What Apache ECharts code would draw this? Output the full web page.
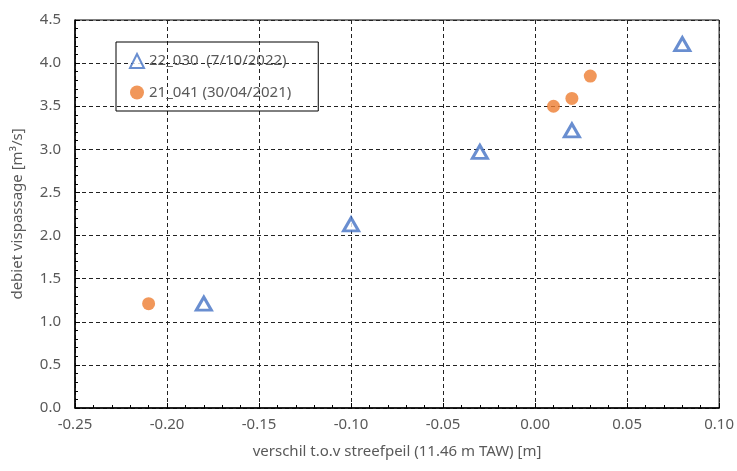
<!DOCTYPE html>
<html><head><meta charset="utf-8">
<script src="https://cdn.jsdelivr.net/npm/echarts@6/dist/echarts.min.js"></script>
<style>html,body{margin:0;padding:0;background:#fff}#c{width:737px;height:471px}</style>
</head><body><div id="c"></div>
<script>
const seriesNames = ['22_030  (7/10/2022)', '21_041 (30/04/2021)'];
const s1x = [-0.18, -0.10, -0.03, 0.02, 0.08];
const s1y = [1.21, 2.13, 2.97, 3.22, 4.22];
const s2x = [-0.21, 0.01, 0.02, 0.03];
const s2y = [1.21, 3.50, 3.59, 3.85];
const xName = 'verschil t.o.v streefpeil (11.46 m TAW) [m]';
const yName = 'debiet vispassage [m³/s]';

const FONT = 'Noto Sans';
const TXT = '#595959';
const FS = 15;
const chart = echarts.init(document.getElementById('c'));
const axisCommon = {
  axisLine: {show: true, onZero: false, lineStyle: {color: '#000', width: 1.5}},
  axisTick: {show: true, inside: true, length: 5, lineStyle: {color: '#000'}},
  minorTick: {show: true, splitNumber: 5, length: 3, lineStyle: {color: '#000'}},
  splitLine: {show: true, lineStyle: {color: '#222', type: [4, 3], width: 1}},
  axisLabel: {color: TXT, fontFamily: FONT, fontSize: FS},
  nameTextStyle: {color: TXT, fontFamily: FONT, fontSize: FS}
};
chart.setOption({
  animation: false,
  grid: {left: 75, right: 15, top: 20, bottom: 63, show: true, borderColor: '#000', borderWidth: 1},
  legend: {
    left: 116, top: 42, orient: 'vertical', borderColor: '#000', borderWidth: 1,
    padding: [11, 27, 11, 13], itemGap: 16, itemWidth: 14, itemHeight: 14,
    textStyle: {color: TXT, fontFamily: FONT, fontSize: FS},
    data: seriesNames
  },
  xAxis: Object.assign({}, axisCommon, {
    type: 'value', min: -0.25, max: 0.10, interval: 0.05,
    name: xName, nameLocation: 'middle', nameGap: 36,
    axisLabel: Object.assign({}, axisCommon.axisLabel, {margin: 9, formatter: v => v.toFixed(2)})
  }),
  yAxis: Object.assign({}, axisCommon, {
    type: 'value', min: 0, max: 4.5, interval: 0.5,
    name: yName, nameLocation: 'middle', nameGap: 50,
    axisLabel: Object.assign({}, axisCommon.axisLabel, {margin: 14, formatter: v => v.toFixed(1)})
  }),
  series: [
    {name: seriesNames[0], type: 'scatter', symbol: 'triangle', symbolSize: [15, 13],
     itemStyle: {color: '#fff', borderColor: '#4472C4', borderWidth: 3},
     data: s1x.map((x, i) => [x, s1y[i]])},
    {name: seriesNames[1], type: 'scatter', symbol: 'circle', symbolSize: 13,
     itemStyle: {color: '#ED7D31'},
     data: s2x.map((x, i) => [x, s2y[i]])}
  ]
});
</script></body></html>
